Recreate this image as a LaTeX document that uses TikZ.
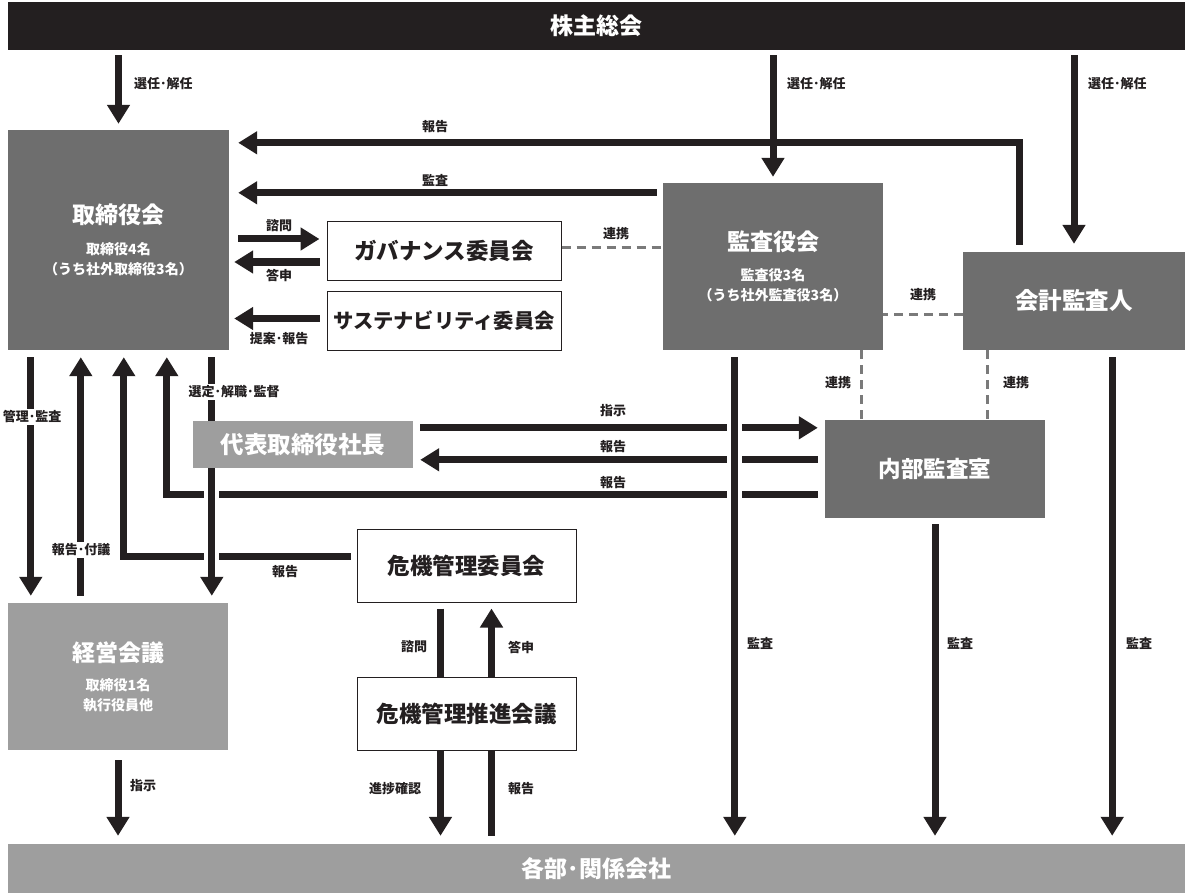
\documentclass[tikz,border=0pt]{standalone}
\usepackage{fontspec}
\setmainfont{Noto Sans CJK JP}
\usetikzlibrary{arrows.meta,calc}
\definecolor{ink}{HTML}{231F20}
\definecolor{dgray}{HTML}{6E6E6E}
\definecolor{lgray}{HTML}{9E9E9E}
\definecolor{dashcol}{HTML}{7A7A7A}
\tikzset{
 darkbox/.style={fill=dgray, text=white, inner sep=0pt, align=center, font=\fontsize{14}{20}\selectfont\bfseries},
 lightbox/.style={fill=lgray, text=white, inner sep=0pt, align=center, font=\fontsize{14}{20}\selectfont\bfseries},
 wbox/.style={draw=ink, line width=1pt, fill=white, text=ink, inner sep=0pt, align=center, font=\fontsize{22.5}{26}\selectfont\bfseries},
 arr/.style={draw=ink, line width=7pt, -{Triangle[width=22pt,length=19pt]}},
 ln/.style={draw=ink, line width=7pt},
 gapline/.style={draw=white, line width=15pt},
 dsh/.style={draw=dashcol, line width=3pt, dash pattern=on 9pt off 6pt},
 lbl/.style={font=\fontsize{13}{15}\selectfont\bfseries, text=ink, inner sep=1pt},
 lblw/.style={lbl, fill=white, inner sep=2pt},
 ttl/.style={font=\fontsize{23}{27}\selectfont\bfseries}
}
\begin{document}
\begin{tikzpicture}[x=1pt,y=-1pt]
\useasboundingbox (0,0) rectangle (1185,893);
% ---------- boxes ----------
\node[fill=ink, text=white, minimum width=1177pt, minimum height=48pt, inner sep=0pt, ttl] (top) at (596.5,26) {株主総会};
\node[fill=lgray, text=white, minimum width=1177pt, minimum height=49pt, inner sep=0pt, ttl] (bottom) at (596.5,868.5) {各部･関係会社};
\node[darkbox, minimum width=221pt, minimum height=220pt] (tori) at (118.5,240)
 {{\fontsize{23}{27}\selectfont\bfseries 取締役会}\\[11pt]取締役4名\\（うち社外取締役3名）};
\node[darkbox, minimum width=220pt, minimum height=167pt] (kansa) at (773,266.5)
 {{\fontsize{23}{27}\selectfont\bfseries 監査役会}\\[10pt]監査役3名\\（うち社外監査役3名）};
\node[darkbox, minimum width=222pt, minimum height=98pt] (kaikei) at (1074,301)
 {{\fontsize{23.5}{27}\selectfont\bfseries 会計監査人}};
\node[wbox, minimum width=234pt, minimum height=58pt] (gov) at (444,251) {ガバナンス委員会};
\node[wbox, minimum width=234pt, minimum height=59pt, font=\fontsize{20.3}{24}\selectfont\bfseries] (sus) at (444,320.5) {サステナビリティ委員会};
\node[lightbox, minimum width=220pt, minimum height=47pt, font=\fontsize{23.5}{27}\selectfont\bfseries] (ceo) at (303,444.5) {代表取締役社長};
\node[darkbox, minimum width=220pt, minimum height=98pt, font=\fontsize{22.5}{26}\selectfont\bfseries] (naibu) at (935,469) {内部監査室};
\node[wbox, minimum width=219pt, minimum height=73pt] (kiki) at (466.5,565.5) {危機管理委員会};
\node[wbox, minimum width=219pt, minimum height=73pt] (suishin) at (466.5,713.5) {危機管理推進会議};
\node[lightbox, minimum width=220pt, minimum height=147pt] (keiei) at (118,676.5)
 {{\fontsize{23}{27}\selectfont\bfseries 経営会議}\\[9pt]取締役1名\\執行役員他};
% ---------- helper coordinates ----------
\coordinate (c31) at ($(tori.south west)+(23,0)$);
\coordinate (c81) at ($(tori.south west)+(73,0)$);
\coordinate (c124) at ($(tori.south west)+(116,0)$);
\coordinate (c167) at ($(tori.south west)+(159,0)$);
\coordinate (c212) at ($(tori.south west)+(204,0)$);
\coordinate (c735) at ($(kansa.south west)+(72,0)$);
\coordinate (c861) at ($(kansa.south east)+(-22,0)$);
\coordinate (c988) at ($(kaikei.south west)+(25,0)$);
\coordinate (c1112) at ($(kaikei.south east)+(-73,0)$);
\coordinate (c441) at ($(kiki.south west)+(84,0)$);
\coordinate (c492) at ($(kiki.south west)+(135,0)$);
\coordinate (kr) at ($(kaikei.north)+(-55,0)$);
\coordinate (r1) at ($(tori.north east)+(0,13)$);
\coordinate (ka1) at ($(kansa.north west)+(0,10)$);
\coordinate (g1) at ($(gov.east)+(0,-3)$);
\coordinate (g2) at ($(gov.west)+(0,-12)$);
\coordinate (g3) at ($(gov.west)+(0,11)$);
\coordinate (s1) at ($(sus.west)+(0,-2)$);
\coordinate (kk1) at ($(kaikei.south west)+(0,-36)$);
\coordinate (n1) at ($(naibu.north west)+(0,8)$);
\coordinate (n2) at ($(naibu.north west)+(0,40)$);
\coordinate (n3) at ($(naibu.north west)+(0,75)$);
\coordinate (k1) at ($(kiki.north west)+(0,28)$);
% ---------- top arrows ----------
\draw[arr, shorten <=5pt, shorten >=6pt] (top.south -| tori.north) -- (tori.north);
\draw[arr, shorten <=5pt, shorten >=6pt] (top.south -| kansa.north) -- (kansa.north);
\draw[arr, shorten <=5pt, shorten >=8pt] (top.south -| kaikei.north) -- (kaikei.north);
\draw[arr, shorten <=7pt, shorten >=9pt] (kr) |- (r1);
\draw[arr, shorten <=6pt, shorten >=9pt] (ka1) -- (ka1 -| tori.east);
\draw[arr, shorten <=9pt, shorten >=7pt] (g2 -| tori.east) -- (g2);
\draw[arr, shorten <=7pt, shorten >=5pt] (g3) -- (g3 -| tori.east);
\draw[arr, shorten <=7pt, shorten >=5pt] (s1) -- (s1 -| tori.east);
% ---------- dashed links ----------
\draw[dsh] (g1) -- (g1 -| kansa.west);
\draw[dsh] (kk1) -- (kk1 -| kansa.east);
\draw[dsh] (c861) -- (c861 |- naibu.north);
\draw[dsh] (c988) -- (c988 |- naibu.north);
% ---------- horizontal middle arrows ----------
\draw[arr, shorten <=7pt, shorten >=7pt] (n1 -| ceo.east) -- (n1);
\draw[arr, shorten <=7pt, shorten >=7pt] (n2) -- (n2 -| ceo.east);
\draw[arr, shorten <=7pt, shorten >=7pt] (n3) -| (c167);
\draw[arr, shorten <=6pt, shorten >=7pt] (k1) -| (c124);
% ---------- gaps at crossings ----------
\draw[gapline] ($(c735 |- n1)+(0,-8)$) -- ($(c735 |- n3)+(0,8)$);
\draw[gapline] ($(c212 |- n3)+(0,-8)$) -- ($(c212 |- k1)+(0,8)$);
% ---------- verticals ----------
\draw[arr, shorten <=7pt, shorten >=7pt] (c31) -- (c31 |- keiei.north);
\draw[arr, shorten <=7pt, shorten >=7pt] (c81 |- keiei.north) -- (c81);
\draw[ln, shorten <=7pt] (c212) -- (c212 |- ceo.north);
\draw[arr, shorten >=7pt] (c212 |- ceo.south) -- (c212 |- keiei.north);
\draw[arr, shorten <=7pt, shorten >=8pt] (c735) -- (c735 |- bottom.north);
\draw[arr, shorten <=6pt, shorten >=8pt] (naibu.south) -- (naibu.south |- bottom.north);
\draw[arr, shorten <=7pt, shorten >=8pt] (c1112) -- (c1112 |- bottom.north);
\draw[ln, shorten <=6pt] (c441) -- (c441 |- suishin.north);
\draw[arr, shorten >=6pt] (c492 |- suishin.north) -- (c492);
\draw[arr, shorten >=8pt] (c441 |- suishin.south) -- (c441 |- bottom.north);
\draw[ln, shorten <=8pt] (c492 |- bottom.north) -- (c492 |- suishin.south);
\draw[arr, shorten <=10pt, shorten >=8pt] (keiei.south) -- (keiei.south |- bottom.north);
% ---------- labels ----------
\node[lbl, anchor=west] (l1) at (133,84) {選任･解任};
\node[lbl, anchor=west] (l2) at (786,84) {選任･解任};
\node[lbl, anchor=west] (l3) at (1087,84) {選任･解任};
\node[lbl] (l4) at (435,127) {報告};
\node[lbl] (l5) at (435,180) {監査};
\node[lbl] (l6) at (279,226) {諮問};
\node[lbl] (l7) at (279,276) {答申};
\node[lbl] (l8) at (279,339) {提案･報告};
\node[lbl] (l9) at (616,234) {連携};
\node[lbl] (l10) at (923,295) {連携};
\node[lbl] (l11) at (838,383) {連携};
\node[lbl] (l12) at (1016,383) {連携};
\node[lblw] (l13) at (32,417) {管理･監査};
\node[lblw] (l14) at (81,550) {報告･付議};
\node[lblw] (l15) at (234,392) {選定･解職･監督};
\node[lbl] (l16) at (285,572) {報告};
\node[lbl] (l17) at (613,411) {指示};
\node[lbl] (l18) at (613,447) {報告};
\node[lbl] (l19) at (613,483) {報告};
\node[lbl] (l20) at (760,643) {監査};
\node[lbl] (l21) at (960,643) {監査};
\node[lbl] (l22) at (1139,643) {監査};
\node[lbl] (l23) at (414,647) {諮問};
\node[lbl] (l24) at (521,647) {答申};
\node[lbl] (l25) at (395,789) {進捗確認};
\node[lbl] (l26) at (521,789) {報告};
\node[lbl] (l27) at (143,786) {指示};
\end{tikzpicture}
\end{document}
